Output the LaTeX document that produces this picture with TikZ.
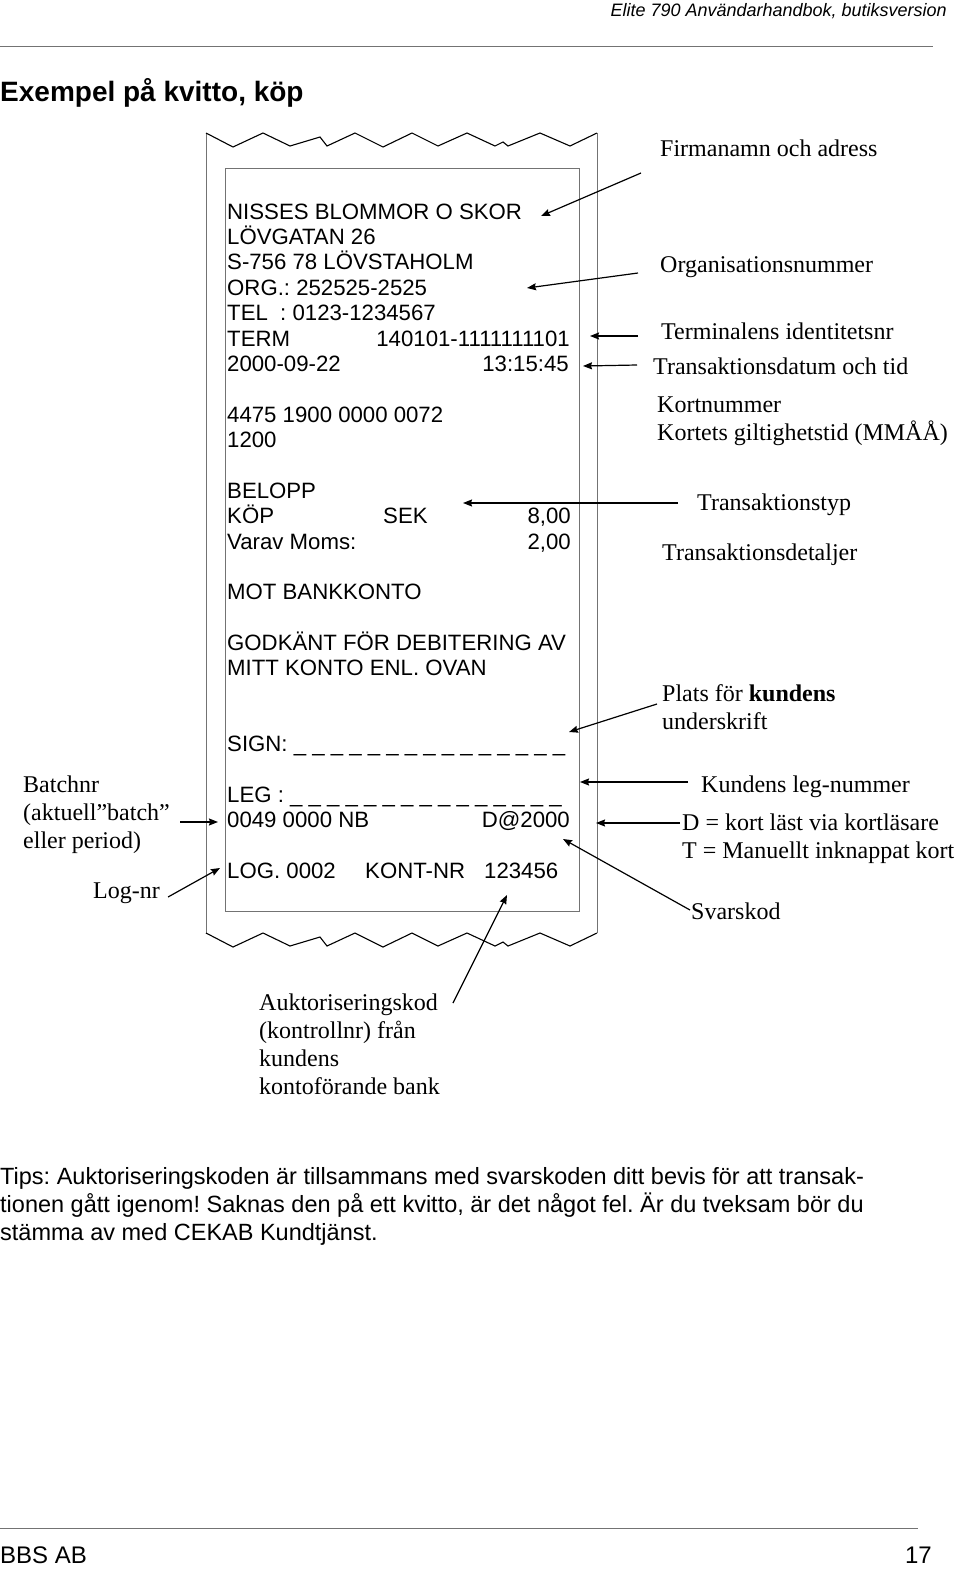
\documentclass[tikz,border=0pt]{standalone}
\usepackage{fontspec}
\setmainfont{Liberation Serif}
\newfontfamily\rcptfont{Liberation Sans}
\usetikzlibrary{arrows.meta}
\frenchspacing

\newcommand\dashline{\_ \_ \_ \_ \_ \_ \_ \_ \_ \_ \_ \_ \_ \_ \_}

\begin{document}
\begin{tikzpicture}[
    x=1pt, y=-1pt,
    >={Stealth[length=9pt,width=7pt,inset=1pt]},
    every node/.style={inner sep=0pt, anchor=base west},
    rcpt/.style={font=\rcptfont\fontsize{22.2}{25}\selectfont},
    lbl/.style={font=\fontsize{24}{28}\selectfont, align=left},
    tips/.style={font=\rcptfont\fontsize{23.5}{28}\selectfont, align=left},
    paper/.style={line width=0.8pt, draw=black!55},
    tear/.style={line width=1.1pt, line join=miter},
    rule/.style={line width=0.6pt, draw=black!55}]
  \useasboundingbox (0,0) rectangle (960,1572);

  % page head
  \node[font=\rcptfont\itshape\fontsize{18}{20}\selectfont, anchor=base east] (head) at (947,16)
      {Elite 790 Användarhandbok, butiksversion};
  \draw[rule] (0,46) -- (933,46);
  \node[font=\rcptfont\bfseries\fontsize{28}{30}\selectfont] (title) at (0,101)
      {Exempel på kvitto, köp};

  % the paper strip
  \draw[paper] (206,133) -- (206,933);
  \draw[paper] (597,133) -- (597,933);
  \foreach \dy in {0,800}
    \draw[tear, shift={(0,\dy)}] (206,133) -- (233,147) -- (263,133) -- (290,146)
      -- (320,137) -- (327,146) -- (355,133) -- (383,147) -- (412,133) -- (438,146)
      -- (467,133) -- (495,146) -- (503,142) -- (508,146) -- (540,133) -- (570,146)
      -- (597,133);
  \draw[paper] (225,168) rectangle (579,911);

  % receipt text
  \node[rcpt] (r1) at (227,219) {NISSES BLOMMOR O SKOR};
  \node[rcpt] (r2) at (227,244) {LÖVGATAN 26};
  \node[rcpt] (r3) at (227,269) {S-756 78 LÖVSTAHOLM};
  \node[rcpt] (r4) at (227,295) {ORG.: 252525-2525};
  \node[rcpt] (r5) at (227,320) {TEL~~: 0123-1234567};
  \node[rcpt] (r6) at (227,346) {TERM};
  \node[rcpt, anchor=base east] (r6b) at (570,346) {140101-1111111101};
  \node[rcpt] (r7) at (227,371) {2000-09-22};
  \node[rcpt, anchor=base east] (r7b) at (569,371) {13:15:45};
  \node[rcpt] (r8) at (227,422) {4475 1900 0000 0072};
  \node[rcpt] (r9) at (227,447) {1200};
  \node[rcpt] (r10) at (227,498) {BELOPP};
  \node[rcpt] (r11) at (227,523) {KÖP};
  \node[rcpt] (r11b) at (383,523) {SEK};
  \node[rcpt, anchor=base east] (r11c) at (571,523) {8,00};
  \node[rcpt] (r12) at (227,549) {Varav Moms:};
  \node[rcpt, anchor=base east] (r12b) at (571,549) {2,00};
  \node[rcpt] (r13) at (227,599) {MOT BANKKONTO};
  \node[rcpt] (r14) at (227,650) {GODKÄNT FÖR DEBITERING AV};
  \node[rcpt] (r15) at (227,675) {MITT KONTO ENL. OVAN};
  \node[rcpt] (r16) at (227,751) {SIGN: \dashline};
  \node[rcpt] (r17) at (227,802) {LEG : \dashline};
  \node[rcpt] (r18) at (227,827) {0049 0000 NB};
  \node[rcpt, anchor=base east] (r18b) at (570,827) {D@2000};
  \node[rcpt] (r19) at (227,878) {LOG. 0002};
  \node[rcpt] (r19b) at (365,878) {KONT-NR};
  \node[rcpt] (r19c) at (484,878) {123456};

  % explanations (multi-line ones sit on their last line)
  \node[lbl] (firma) at (660,156) {Firmanamn och adress};
  \node[lbl] (orgnr) at (660,272) {Organisationsnummer};
  \node[lbl] (termid) at (661,339) {Terminalens identitetsnr};
  \node[lbl] (datum) at (653,374) {Transaktionsdatum och tid};
  \node[lbl] (kort) at (657,440) {Kortnummer\\Kortets giltighetstid (MMÅÅ)};
  \node[lbl] (typ) at (697,510) {Transaktionstyp};
  \node[lbl] (detalj) at (662,560) {Transaktionsdetaljer};
  \node[lbl] (sign) at (662,729) {Plats för \textbf{kundens}\\underskrift};
  \node[lbl] (leg) at (701,792) {Kundens leg-nummer};
  \node[lbl] (dkod) at (682,858) {D = kort läst via kortläsare\\T = Manuellt inknappat kort};
  \node[lbl] (svar) at (691,919) {Svarskod};
  \node[lbl] (batch) at (23,848) {Batchnr\\(aktuell”batch”\\eller period)};
  \node[lbl] (lognr) at (93,898) {Log-nr};
  \node[lbl] (auth) at (259,1094) {Auktoriseringskod\\(kontrollnr) från\\kundens\\kontoförande bank};

  % arrow tips on the receipt
  \coordinate (aFirma) at (541,216);
  \coordinate (aOrg) at (527,288);
  \coordinate (aTerm) at (590,336);
  \coordinate (aDatum) at (583,366);
  \coordinate (aTyp) at (463,503);
  \coordinate (aSign) at (569,732);
  \coordinate (aLeg) at (580,782);
  \coordinate (aDkod) at (596,823);
  \coordinate (aSvar) at (563,839);
  \coordinate (aBatch) at (218,822);
  \coordinate (aLog) at (220,868);
  \coordinate (aAuth) at (507,895);

  \path[every edge/.style={draw, ->, line width=1.2pt}]
      ([shift={(-19,17)}]firma.base west) edge (aFirma)
      ([shift={(-22,1)}]orgnr.base west) edge (aOrg)
      ([shift={(-23,-3)}]termid.base west) edge (aTerm)
      ([shift={(-16,-9)}]datum.base west) edge (aDatum)
      ([shift={(-19,-7)}]typ.base west) edge (aTyp)
      ([shift={(-5,-25)}]sign.base west) edge (aSign)
      ([shift={(-13,-10)}]leg.base west) edge (aLeg)
      ([shift={(-2,-35)}]dkod.base west) edge (aDkod)
      ([shift={(-1,-9)}]svar.base west) edge (aSvar)
      ([shift={(157,-26)}]batch.base west) edge (aBatch)
      ([shift={(8,-1)}]lognr.base east) edge (aLog)
      ([shift={(194,-91)}]auth.base west) edge (aAuth);

  % tips
  \node[tips] (tip) at (0,1240) {Tips: Auktoriseringskoden är tillsammans med svarskoden ditt bevis för att transak-\\
      tionen gått igenom! Saknas den på ett kvitto, är det något fel. Är du tveksam bör du\\
      stämma av med CEKAB Kundtjänst.};

  % page foot
  \draw[rule] (0,1528) -- (918,1528);
  \node[font=\rcptfont\fontsize{24}{26}\selectfont] (firm) at (0,1563) {BBS AB};
  \node[font=\rcptfont\fontsize{24}{26}\selectfont, anchor=base east] (page) at (932,1563) {17};
\end{tikzpicture}
\end{document}
